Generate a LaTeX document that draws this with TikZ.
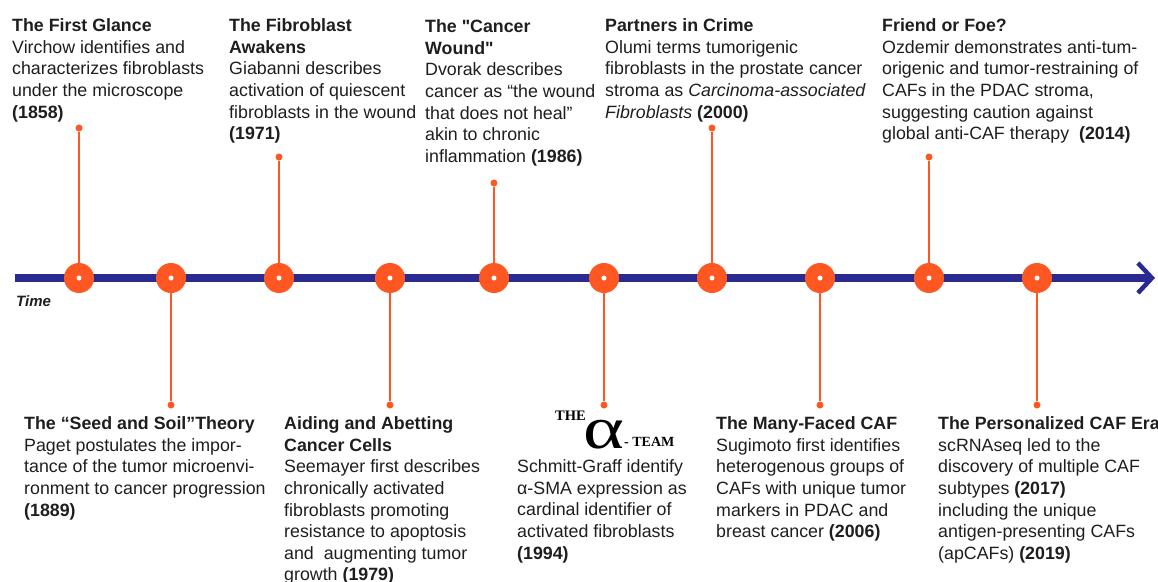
\documentclass[tikz,border=0pt]{standalone}
\usepackage{fontspec}
\usepackage{graphicx}
\setmainfont{Liberation Sans}
\newfontfamily\logofont{Liberation Serif}
\usetikzlibrary{arrows.meta}
\definecolor{axisblue}{RGB}{42,42,145}
\definecolor{dotorange}{RGB}{255,87,34}
\definecolor{txtgray}{RGB}{30,30,30}

\begin{document}
\begin{tikzpicture}[x=1pt,y=-1pt,
    evt/.style={circle,fill=dotorange,minimum size=30pt,inner sep=0pt},
    tipdot/.style={circle,fill=dotorange,minimum size=7pt,inner sep=0pt},
    stem/.style={dotorange,line width=2pt},
    story/.style={anchor=north west,inner sep=0pt,align=left,text=txtgray,
        font=\fontsize{17.8}{21.6}\selectfont},
    logo/.style={anchor=base west,inner sep=0pt,text=black}]
\useasboundingbox (0,0) rectangle (1158,581);
% time axis
\draw[axisblue,line width=7.5pt,-{Straight Barb[length=14pt,width=30pt,line width=4.5pt]}]
    (15,278) -- (1155,278);
\node[anchor=base west,inner sep=0pt,text=txtgray,
    font=\bfseries\itshape\fontsize{15}{15}\selectfont] (timelbl) at (16,306) {Time};
% events on the axis
\foreach \n/\x/\y in {1/79/128,2/171/405,3/279/157,4/390/405,5/494/183,
                      6/604/405,7/712/128,8/820/405,9/929/157,10/1037/405} {
    \node[evt] (e\n) at (\x,278) {};
    \node[tipdot] (t\n) at (\x,\y) {};
    \draw[stem] (e\n) -- (t\n);
    \fill[white] (e\n) circle (2.5pt);
}
% texts above
\node[story] (s1) at (12,18.5) {\textbf{The First Glance}\\
    Virchow identifies and\\ characterizes fibroblasts\\ under the microscope\\ \textbf{(1858)}};
\node[story] (s3) at (229,18.5) {\textbf{The Fibroblast}\\ \textbf{Awakens}\\
    Giabanni describes\\ activation of quiescent\\ fibroblasts in the wound\\ \textbf{(1971)}};
\node[story] (s5) at (425,19.5) {\textbf{The \textquotedbl Cancer}\\ \textbf{Wound\textquotedbl}\\
    Dvorak describes\\ cancer as “the wound\\ that does not heal”\\ akin to chronic\\
    inflammation \textbf{(1986)}};
\node[story] (s7) at (605,18.5) {\textbf{Partners in Crime}\\
    Olumi terms tumorigenic\\ fibroblasts in the prostate cancer\\
    stroma as \textit{Carcinoma-associated}\\ \textit{Fibroblasts} \textbf{(2000)}};
\node[story] (s9) at (882,18.5) {\textbf{Friend or Foe?}\\
    Ozdemir demonstrates anti-tum-\\ origenic and tumor-restraining of\\
    CAFs in the PDAC stroma,\\ suggesting caution against\\
    global anti-CAF therapy~~\textbf{(2014)}};
% texts below
\node[story] (s2) at (24,416.5) {\textbf{The “Seed and Soil”Theory}\\
    Paget postulates the impor-\\ tance of the tumor microenvi-\\
    ronment to cancer progression\\ \textbf{(1889)}};
\node[story] (s4) at (284,416.5) {\textbf{Aiding and Abetting}\\ \textbf{Cancer Cells}\\
    Seemayer first describes\\ chronically activated\\ fibroblasts promoting\\
    resistance to apoptosis\\ and~~augmenting tumor\\ growth \textbf{(1979)}};
\node[logo,font=\logofont\bfseries\fontsize{14.5}{14.5}\selectfont] (lthe) at (555,420) {THE};
\node[logo,font=\logofont\fontsize{60}{60}\selectfont] (lalpha) at (583,448) {\scalebox{1.3}[1]{α}};
\node[logo,font=\logofont\bfseries\fontsize{14}{14}\selectfont] (lteam) at (624,446) {-~TEAM};
\node[story] (s6) at (517,459.5) {Schmitt-Graff identify\\ α-SMA expression as\\
    cardinal identifier of\\ activated fibroblasts\\ \textbf{(1994)}};
\node[story] (s8) at (716,416.5) {\textbf{The Many-Faced CAF}\\
    Sugimoto first identifies\\ heterogenous groups of\\ CAFs with unique tumor\\
    markers in PDAC and\\ breast cancer \textbf{(2006)}};
\node[story] (s10) at (938,416.5) {\textbf{The Personalized CAF Era}\\
    scRNAseq led to the\\ discovery of multiple CAF\\ subtypes \textbf{(2017)}\\
    including the unique\\ antigen-presenting CAFs\\ (apCAFs) \textbf{(2019)}};
\end{tikzpicture}
\end{document}
